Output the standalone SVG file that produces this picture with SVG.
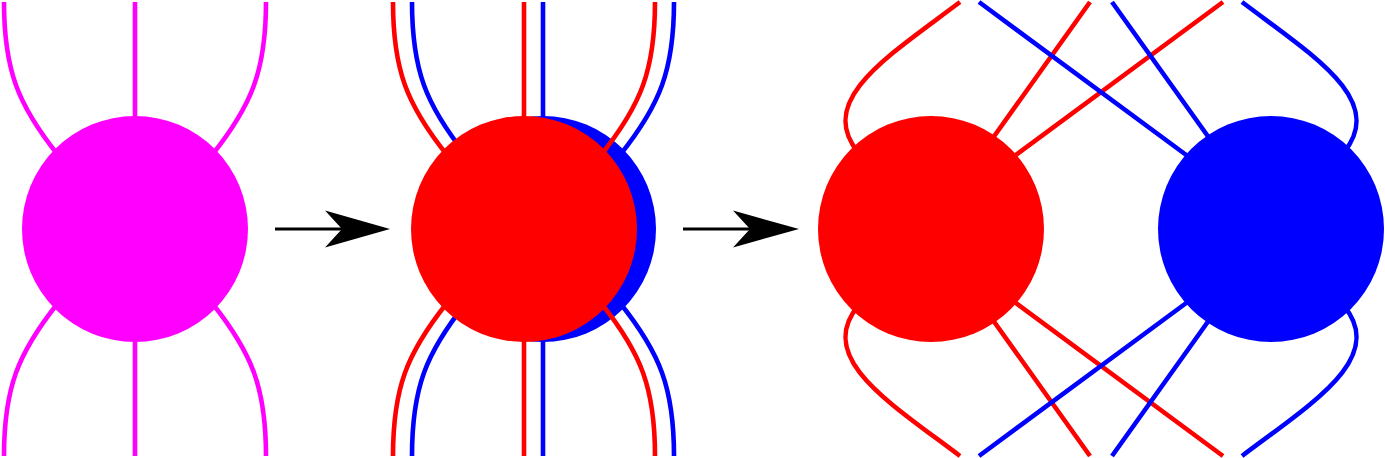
<svg xmlns="http://www.w3.org/2000/svg" width="1385" height="458" viewBox="0 0 1385 458">
<style>
.leg{fill:none;stroke-width:4.6}
.m{stroke:#ff00ff}
.r{stroke:#ff0000}
.b{stroke:#0000ff}
.arrow{stroke:#000;stroke-width:3;fill:none}
</style>
<rect width="1385" height="458" fill="#fff"/>
<g id="tensor-magenta">
<path class="leg m" d="M4,2 C4,70 18,105 58,155 M135,2 V120 M266,2 C266,70 252,105 212,155 M4,456 C4,388 18,353 58,303 M135,456 V338 M266,456 C266,388 252,353 212,303"/>
<circle cx="135" cy="229" r="113" fill="#ff00ff"/>
</g>
<g id="tensor-doubled-blue">
<path class="leg b" d="M412,2 C412,70 426,105 466,155 M543,2 V120 M674,2 C674,70 660,105 620,155 M412,456 C412,388 426,353 466,303 M543,456 V338 M674,456 C674,388 660,353 620,303"/>
<circle cx="543" cy="229" r="113" fill="#0000ff"/>
</g>
<g id="tensor-doubled-red">
<path class="leg r" d="M393,2 C393,70 407,105 447,155 M524,2 V120 M655,2 C655,70 641,105 601,155 M393,456 C393,388 407,353 447,303 M524,456 V338 M655,456 C655,388 641,353 601,303"/>
<circle cx="524" cy="229" r="113" fill="#ff0000"/>
</g>
<g id="tensor-red">
<path class="leg r" d="M960,2 C890,55 815,100 858,152 M1090,2 L990,142 M1223,2 L1009,160 M960,456 C890,403 815,358 858,306 M1090,456 L990,316 M1223,456 L1009,298"/>
<circle cx="931" cy="229" r="113" fill="#ff0000"/>
</g>
<g id="tensor-blue">
<path class="leg b" d="M1242,2 C1312,55 1387,100 1344,152 M1112,2 L1212,142 M979,2 L1193,160 M1242,456 C1312,403 1387,358 1344,306 M1112,456 L1212,316 M979,456 L1193,298"/>
<circle cx="1271" cy="229" r="113" fill="#0000ff"/>
</g>
<g id="connectors">
<path class="arrow" d="M275,229 H345"/>
<polygon points="390,229 325,210.5 342,229 325,247.5" fill="#000"/>
<path class="arrow" d="M683,229 H752"/>
<polygon points="799,229 733,210.5 750,229 733,247.5" fill="#000"/>
</g>
</svg>
